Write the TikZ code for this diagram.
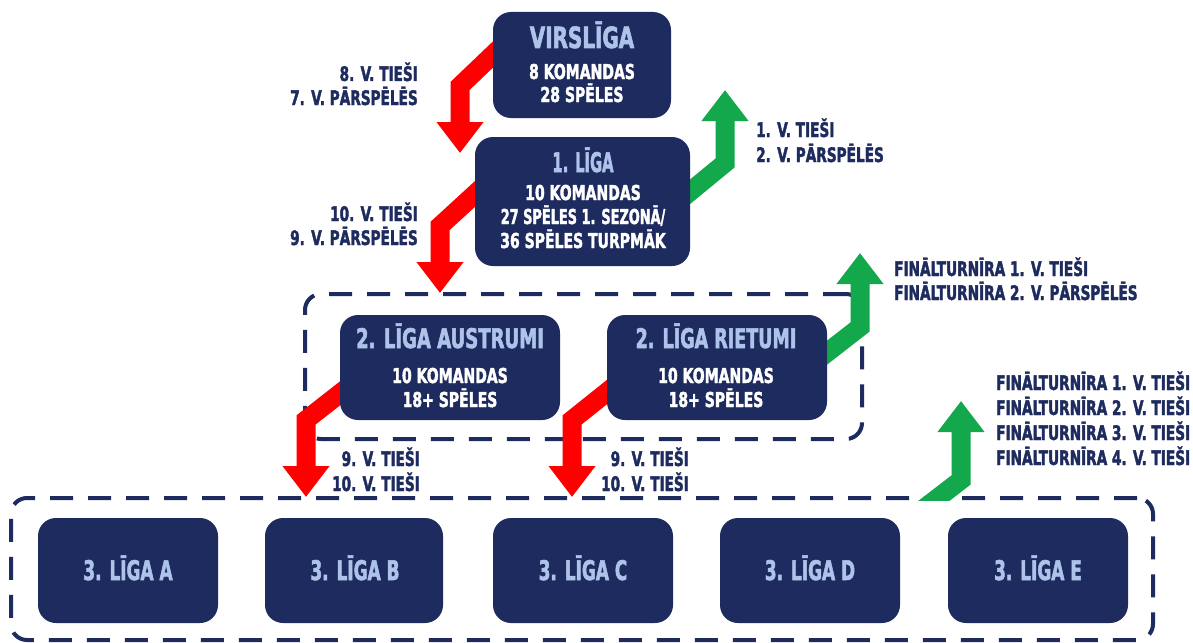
\documentclass[tikz,border=0pt]{standalone}
\usepackage{fontspec}
\usepackage{graphicx}
\setmainfont{DejaVu Sans Condensed}[FakeStretch=0.82,FakeBold=2]
\usetikzlibrary{arrows.meta}
\definecolor{navy}{HTML}{1E2B5E}
\definecolor{ltblue}{HTML}{AEC3EA}
\definecolor{myred}{HTML}{FF0000}
\definecolor{mygreen}{HTML}{12A84B}
\newcommand{\hsc}[2]{\scalebox{#1}[1.08]{#2}}
\begin{document}
\begin{tikzpicture}[x=1pt,y=-1pt,
  league/.style={draw=none, fill=navy, rounded corners=18pt, inner sep=0pt},
  ttl/.style={font=\bfseries\fontsize{27}{30}\selectfont, text=ltblue, inner sep=0pt, anchor=base},
  ttlm/.style={font=\bfseries\fontsize{25}{28}\selectfont, text=ltblue, inner sep=0pt, anchor=base},
  sub/.style={font=\bfseries\fontsize{19}{22}\selectfont, text=white, inner sep=0pt, anchor=base},
  lbl/.style={font=\bfseries\fontsize{18.5}{22}\selectfont, text=navy, inner sep=0pt},
  dbox/.style={draw=navy, line width=4pt, dash pattern=on 23pt off 15pt, rounded corners=16pt, inner sep=0pt},
  redarr/.style={draw=myred, line width=19pt, -{Triangle[length=31pt,width=45pt]}},
  greenarr/.style={draw=mygreen, line width=19pt, -{Triangle[length=31pt,width=45pt]}}]
\useasboundingbox (0,0) rectangle (1193,642);
\fill[white] (0,0) rectangle (1193,642);

% dashed group frames
\node[dbox, minimum width=557pt, minimum height=145pt] (g2) at (583.5,366.5) {};
\node[dbox, minimum width=1142pt, minimum height=142pt] (g3) at (582,569) {};

% arrow coordinates
\coordinate (r1s) at (505,43);  \coordinate (r1b) at (460,86);  \coordinate (r1t) at (460,153);
\coordinate (r2s) at (488,182); \coordinate (r2b) at (440,226); \coordinate (r2t) at (440,293);
\coordinate (g1s) at (680,200); \coordinate (g1b) at (725,163); \coordinate (g1t) at (725,90);
\coordinate (g2s) at (815,362); \coordinate (g2b) at (860,327); \coordinate (g2t) at (860,253);
\coordinate (r3s) at (352,384); \coordinate (r3b) at (306,420); \coordinate (r3t) at (306,497);
\coordinate (r4s) at (617,384); \coordinate (r4b) at (572,420); \coordinate (r4t) at (572,497);
\coordinate (g3s) at (922,510); \coordinate (g3b) at (961,480); \coordinate (g3t) at (961,401);

\draw[redarr] (r1s) -- (r1b) -- (r1t);
\draw[redarr] (r2s) -- (r2b) -- (r2t);
\draw[greenarr] (g1s) -- (g1b) -- (g1t);
\draw[greenarr] (g2s) -- (g2b) -- (g2t);
\draw[redarr] (r3s) -- (r3b) -- (r3t);
\draw[redarr] (r4s) -- (r4b) -- (r4t);
\begin{scope}
\clip (880,380) rectangle (1010,500);
\draw[greenarr] (g3s) -- (g3b) -- (g3t);
\end{scope}

% league boxes
\node[league, minimum width=178pt, minimum height=106pt] (v) at (582,65) {};
\node[league, minimum width=215pt, minimum height=129pt] (l1) at (582.5,201.5) {};
\node[league, minimum width=220pt, minimum height=105pt] (au) at (450,367.5) {};
\node[league, minimum width=220pt, minimum height=105pt] (ri) at (717,367.5) {};
\node[league, minimum width=180pt, minimum height=105pt] (la) at (128,570.5) {};
\node[league, minimum width=178pt, minimum height=105pt] (lb) at (354,570.5) {};
\node[league, minimum width=180pt, minimum height=105pt] (lc) at (583,570.5) {};
\node[league, minimum width=180pt, minimum height=105pt] (ld) at (810,570.5) {};
\node[league, minimum width=180pt, minimum height=105pt] (le) at (1038,570.5) {};

% box texts
\node[ttl] (vt) at (582,48) {\hsc{1}{VIRSLĪGA}};
\node[sub] (v1) at (582,79) {\hsc{1}{8 KOMANDAS}};
\node[sub] (v2) at (582,102) {\hsc{1}{28 SPĒLES}};

\node[ttlm] (l1t) at (583,172) {\hsc{0.8}{1. LĪGA}};
\node[sub] (l11) at (583,200) {\hsc{1}{10 KOMANDAS}};
\node[sub] (l12) at (583,224) {\hsc{0.92}{27 SPĒLES 1. SEZONĀ/}};
\node[sub] (l13) at (583,248) {\hsc{1}{36 SPĒLES TURPMĀK}};

\node[ttlm] (aut) at (450,348) {\hsc{0.98}{2. LĪGA AUSTRUMI}};
\node[sub] (au1) at (450,383) {\hsc{1}{10 KOMANDAS}};
\node[sub] (au2) at (450,407) {\hsc{1}{18+ SPĒLES}};

\node[ttlm] (rit) at (716,348) {\hsc{0.95}{2. LĪGA RIETUMI}};
\node[sub] (ri1) at (716,383) {\hsc{1}{10 KOMANDAS}};
\node[sub] (ri2) at (716,407) {\hsc{1}{18+ SPĒLES}};

\node[ttlm] (lat) at (128,580) {\hsc{0.92}{3. LĪGA A}};
\node[ttlm] (lbt) at (355,580) {\hsc{0.92}{3. LĪGA B}};
\node[ttlm] (lct) at (583,580) {\hsc{0.92}{3. LĪGA C}};
\node[ttlm] (ldt) at (810,580) {\hsc{0.92}{3. LĪGA D}};
\node[ttlm] (let) at (1038,580) {\hsc{0.92}{3. LĪGA E}};

% labels
\node[lbl, anchor=base east] (a1) at (418,81) {\hsc{1}{8. V. TIEŠI}};
\node[lbl, anchor=base east] (a2) at (418,105) {\hsc{1}{7. V. PĀRSPĒLĒS}};
\node[lbl, anchor=base east] (b1) at (418,221) {\hsc{1}{10. V. TIEŠI}};
\node[lbl, anchor=base east] (b2) at (418,245) {\hsc{1}{9. V. PĀRSPĒLĒS}};
\node[lbl, anchor=base west] (c1) at (756,137) {\hsc{1}{1. V. TIEŠI}};
\node[lbl, anchor=base west] (c2) at (756,162) {\hsc{1}{2. V. PĀRSPĒLĒS}};
\node[lbl, anchor=base west] (d1) at (894,276) {\hsc{1}{FINĀLTURNĪRA 1. V. TIEŠI}};
\node[lbl, anchor=base west] (d2) at (894,300) {\hsc{1}{FINĀLTURNĪRA 2. V. PĀRSPĒLĒS}};
\node[lbl, anchor=base west] (e1) at (996,390) {\hsc{1}{FINĀLTURNĪRA 1. V. TIEŠI}};
\node[lbl, anchor=base west] (e2) at (996,415) {\hsc{1}{FINĀLTURNĪRA 2. V. TIEŠI}};
\node[lbl, anchor=base west] (e3) at (996,440) {\hsc{1}{FINĀLTURNĪRA 3. V. TIEŠI}};
\node[lbl, anchor=base west] (e4) at (996,465) {\hsc{1}{FINĀLTURNĪRA 4. V. TIEŠI}};
\node[lbl, anchor=base east] (f1) at (420,466) {\hsc{1}{9. V. TIEŠI}};
\node[lbl, anchor=base east] (f2) at (420,491) {\hsc{1}{10. V. TIEŠI}};
\node[lbl, anchor=base east] (h1) at (689,466) {\hsc{1}{9. V. TIEŠI}};
\node[lbl, anchor=base east] (h2) at (689,491) {\hsc{1}{10. V. TIEŠI}};
\end{tikzpicture}
\end{document}
